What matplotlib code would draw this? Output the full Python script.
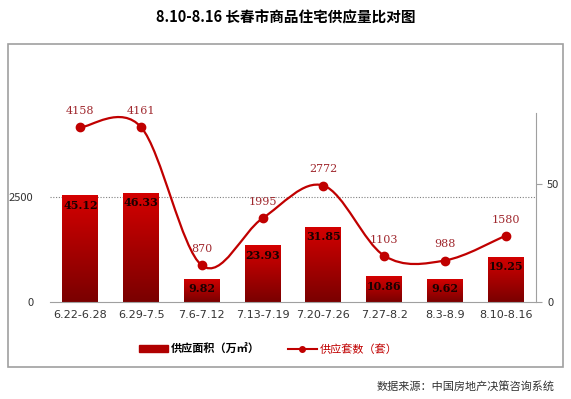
import numpy as np
import matplotlib.pyplot as plt
from matplotlib.path import Path
from matplotlib.patches import PathPatch, Rectangle
from matplotlib.colors import LinearSegmentedColormap
from matplotlib.lines import Line2D
from matplotlib.transforms import blended_transform_factory

plt.rcParams['font.family'] = ['Noto Sans CJK SC', 'DejaVu Sans']

weeks = ['6.22-6.28', '6.29-7.5', '7.6-7.12', '7.13-7.19', '7.20-7.26',
         '7.27-8.2', '8.3-8.9', '8.10-8.16']
area = [45.12, 46.33, 9.82, 23.93, 31.85, 10.86, 9.62, 19.25]   # 万㎡
units = [4158, 4161, 870, 1995, 2772, 1103, 988, 1580]          # 套

fig = plt.figure(figsize=(5.71, 3.99), dpi=100)
W, H = 571, 399

# outer grey frame
fig.patches.append(Rectangle((8 / W, 1 - 367 / H), 555 / W, 323 / H,
                             transform=fig.transFigure, fill=False,
                             edgecolor='#a0a0a0', lw=1.2))

fig.text(0.5, 1 - 17 / H, '8.10-8.16 长春市商品住宅供应量比对图',
         ha='center', va='center', fontsize=10.5, fontweight='bold')

ax = fig.add_axes([50 / W, 1 - 302 / H, 486 / W, 189 / H])
ax2 = ax.twinx()
ax.set_zorder(ax2.get_zorder() + 1)
ax.patch.set_visible(False)

x = np.arange(len(weeks))

# bars (right axis) with vertical gradient
cmap = LinearSegmentedColormap.from_list('bar', ['#7a0000', '#d40000'])
bars = ax2.bar(x, area, width=0.59, color='none', edgecolor='none')
grad = np.linspace(0, 1, 100).reshape(-1, 1)
for b, v in zip(bars, area):
    x0 = b.get_x()
    im = ax2.imshow(grad, cmap=cmap, origin='lower', aspect='auto',
                    extent=[x0, x0 + b.get_width(), 0, v], zorder=2)
    im.set_clip_path(b)
    ax2.annotate(f'{v:.2f}', (b.get_x() + b.get_width() / 2, v),
                 xytext=(0, -3), textcoords='offset points', ha='center',
                 va='top', fontsize=8, fontweight='bold', color='#1a0000',
                 family='DejaVu Serif', zorder=3)

# dotted reference line at 2500 (left-axis value) behind the bars
tr = blended_transform_factory(ax2.transAxes, ax.transData)
ax2.plot([0, 1], [2500, 2500], transform=tr, ls=(0, (1, 1.5)), lw=0.8,
         color='#808080', zorder=1)

# smooth line (left axis) drawn as Catmull-Rom bezier segments
pts = np.column_stack([x, units]).astype(float)
ext = np.vstack([pts[0], pts, pts[-1]])
verts = [tuple(pts[0])]
codes = [Path.MOVETO]
for i in range(len(pts) - 1):
    p0, p1, p2, p3 = ext[i], ext[i + 1], ext[i + 2], ext[i + 3]
    c1 = p1 + (p2 - p0) / 6
    c2 = p2 - (p3 - p1) / 6
    verts += [tuple(c1), tuple(c2), tuple(p2)]
    codes += [Path.CURVE4] * 3
ax.add_patch(PathPatch(Path(verts, codes), fill=False, edgecolor='#c00000',
                       lw=1.6, zorder=3))
ax.plot(x, units, ls='none', marker='o', ms=6, color='#c00000', zorder=4)
for xi, v in zip(x, units):
    ax.annotate(str(v), (xi, v), xytext=(0, 8), textcoords='offset points',
                ha='center', va='bottom', fontsize=8, color='#a0282e',
                family='DejaVu Serif')

ax.set_xlim(-0.5, len(weeks) - 0.5)
ax.set_ylim(0, 4500)
ax2.set_ylim(0, 80)
ax.set_yticks([0, 2500])
ax2.set_yticks([0, 50])
ax.set_xticks(x)
ax.set_xticklabels(weeks, fontsize=8, family='DejaVu Sans')
ax.tick_params(axis='y', length=0, labelsize=8, colors='#333333', pad=12)
ax.tick_params(axis='x', length=0, labelsize=8, colors='#333333', pad=6)
ax2.tick_params(axis='y', length=4, labelsize=8, colors='#333333',
                color='#a0a0a0', pad=4)

for s in ax.spines.values():
    s.set_visible(False)
for s in ax2.spines.values():
    s.set_visible(False)
ax.spines['bottom'].set_visible(True)
ax.spines['bottom'].set_color('#a0a0a0')
ax2.spines['right'].set_visible(True)
ax2.spines['right'].set_color('#a0a0a0')

handles = [Rectangle((0, 0), 1, 1, color='#b00000'),
           Line2D([], [], color='#c00000', marker='o', ms=4, lw=1.5)]
leg = fig.legend(handles, ['供应面积（万㎡）', '供应套数（套）'], ncol=2,
                 loc='center', bbox_to_anchor=(0.47, 1 - 349 / H),
                 frameon=False, fontsize=8, handlelength=2.6,
                 handleheight=0.5, columnspacing=2.5, handletextpad=0.3)
leg.get_texts()[0].set_fontweight('bold')
leg.get_texts()[1].set_color('#c00000')

fig.text(555 / W, 1 - 386 / H, '数据来源：中国房地产决策咨询系统',
         ha='right', va='center', fontsize=8, color='#333333')

fig.savefig('out.png', dpi=100)
